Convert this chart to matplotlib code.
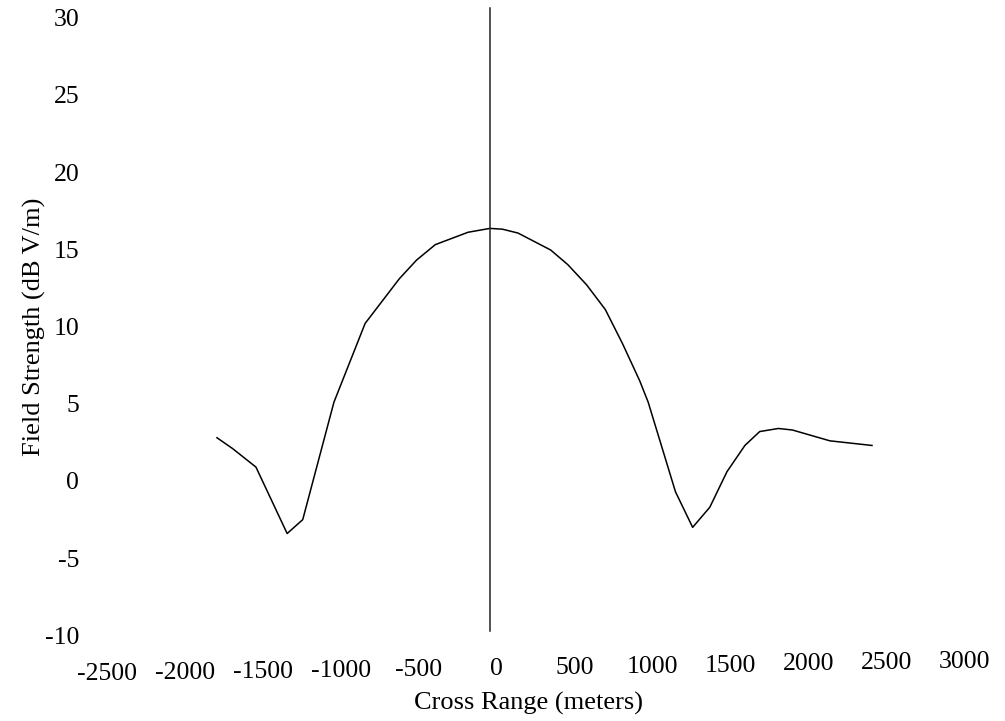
import matplotlib
matplotlib.use("Agg")
import matplotlib.pyplot as plt
import matplotlib.transforms as mtransforms

# Field strength profile across the range
cross_range = [-1750, -1650, -1500, -1300, -1200, -1000, -800, -580, -470, -350,
               -140, 0, 80, 180, 390, 500, 620, 740, 850, 960, 1015, 1190, 1300,
               1410, 1520, 1635, 1730, 1850, 1940, 2180, 2450]
field_db = [2.8, 2.1, 0.9, -3.4, -2.5, 5.1, 10.2, 13.1, 14.3, 15.3,
            16.1, 16.35, 16.3, 16.05, 14.95, 14.0, 12.7, 11.1, 8.9, 6.5, 5.1, -0.7, -3.0,
            -1.7, 0.6, 2.3, 3.2, 3.4, 3.3, 2.6, 2.3]

x_ticks = [-2500, -2000, -1500, -1000, -500, 0, 500, 1000, 1500, 2000, 2500, 3000]
y_ticks = [-10, -5, 0, 5, 10, 15, 20, 25, 30]

plt.rcParams['font.family'] = ['Liberation Serif', 'DejaVu Serif']

fig = plt.figure(figsize=(10.05, 7.21), dpi=100)
ax = fig.add_axes([0.0995, 0.1186, 0.8535, 0.8571])

ax.plot(cross_range, field_db, color='black', linewidth=1.1)
# vertical axis line through zero
ax.plot([0, 0], [-9.7, 30.6], color='#222222', linewidth=1.1, clip_on=False)

ax.set_xlim(-2500, 3000)
ax.set_ylim(-10, 30)
ax.set_xticks(x_ticks)
ax.set_yticks(y_ticks)
ax.set_xticklabels([str(v) for v in x_ticks])
ax.set_yticklabels([str(v) for v in y_ticks])

for s in ax.spines.values():
    s.set_visible(False)
ax.tick_params(axis='both', length=0, labelsize=18.5, colors='black')
ax.tick_params(axis='x', pad=20)
ax.tick_params(axis='y', pad=15)

# slight offset of the x labels, rising to the right
n = len(x_ticks)
for i, lab in enumerate(ax.get_xticklabels()):
    dy = (i / (n - 1)) * 12 / 100.0
    off = mtransforms.ScaledTranslation(7 / 100.0, dy, fig.dpi_scale_trans)
    lab.set_transform(lab.get_transform() + off)

ax.set_xlabel('Cross Range (meters)', fontsize=19, labelpad=5)
ax.set_ylabel('Field Strength (dB V/m)', fontsize=19, labelpad=-1)

fig.savefig('out.png', dpi=100)
